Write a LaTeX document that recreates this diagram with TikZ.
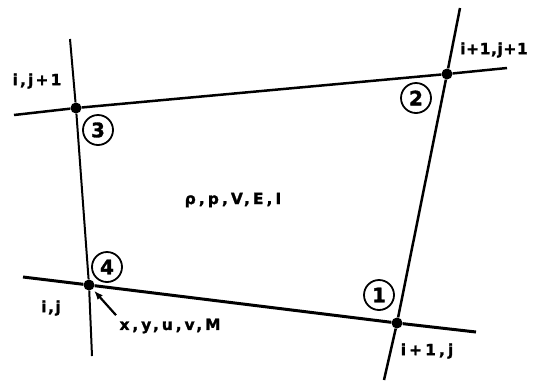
\documentclass[tikz,border=0pt]{standalone}
\usepackage{fontspec}
\setmainfont{DejaVu Sans}
\usetikzlibrary{arrows.meta}

\begin{document}
\begin{tikzpicture}[x=1bp,y=-1bp,
  grid/.style={line width=2.5bp},
  dot/.style={circle,fill,inner sep=0pt,minimum size=11bp},
  corner/.style={circle,draw,line width=1.8bp,inner sep=0pt,minimum size=30bp,font=\bfseries\fontsize{20}{20}\selectfont\addfontfeatures{FakeBold=1.5}},
  lab/.style={font=\bfseries\fontsize{15.5}{16}\selectfont\addfontfeatures{LetterSpace=#1,FakeBold=1.5}},
  lab/.default=10]
\useasboundingbox (0,0) rectangle (535,384);
\node[dot] (p1) at (397,323){};
\node[dot] (p2) at (447,74){};
\node[dot] (p3) at (76,108){};
\node[dot] (p4) at (89,285){};
\coordinate (lt) at (70,39);
\coordinate (lb) at (92,356);
\coordinate (rt) at (460,8);
\coordinate (rb) at (384,380);
\coordinate (tl) at (14,115);
\coordinate (tr) at (507,68);
\coordinate (bl) at (23,277);
\coordinate (br) at (476,332);
\draw[grid,line width=2bp] (lt)--(p3)--(p4)--(lb);
\draw[grid] (rt)--(p2)--(p1)--(rb);
\draw[grid] (tl)--(p3)--(p2)--(tr);
\draw[grid,line width=3bp] (bl)--(p4)--(p1)--(br);
\foreach \n/\x/\y in {1/379/295,2/416/98,3/98/130,4/107/267}
  \node[corner] (c\n) at (\x,\y){\n};
\node[lab=20] (l1) at (427,351){i+1,j};
\node[lab=4] (l2) at (494,50){i+1,j+1};
\node[lab=14] (l3) at (37,81){i,j+1};
\node[lab] (l4) at (51,308){i,j};
\node[lab=19] (vars) at (170,326){x,y,u,v,M};
\node[lab=20] (cell) at (233,200){ρ,p,V,E,I};
\draw[-{Latex[length=9bp,width=7bp]},line width=2.2bp,shorten >=2bp] (vars.north west)--(p4);
\end{tikzpicture}
\end{document}
